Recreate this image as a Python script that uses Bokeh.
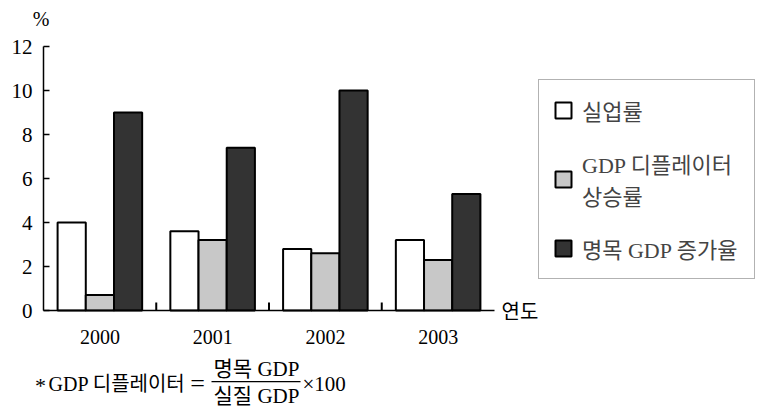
import numpy as np
from bokeh.plotting import figure
from bokeh.models import (Range1d, ColumnDataSource, Legend, LegendItem,
                          Label, BoxAnnotation, FixedTicker)
from bokeh.transform import dodge
from bokeh.embed import file_html
from bokeh.resources import INLINE

years = ["2000", "2001", "2002", "2003"]
unemployment = [4.0, 3.6, 2.8, 3.2]
deflator_growth = [0.7, 3.2, 2.6, 2.3]
nominal_gdp_growth = [9.0, 7.4, 10.0, 5.3]
y_ticks = [0, 2, 4, 6, 8, 10, 12]
series_labels = ["실업률", "GDP 디플레이터\n상승률", "명목 GDP 증가율"]
y_unit = "%"
x_unit = "연도"
fn_star = "*"
fn_name = "GDP 디플레이터"
fn_eq = "="
fn_num = "명목 GDP"
fn_den = "실질 GDP"
fn_times = "×100"

SERIF = "'Liberation Serif', 'Noto Sans CJK KR'"
KR = "'Noto Sans CJK KR'"

# layout (pixels)
W, H = 759, 408
AX_X, AX_Y = 43, 310          # pixel position of the axes origin
PX_X, PX_Y = 112.75, 22.0     # pixels per category / per percent

centers = list(np.arange(len(years)) + 0.5)
bounds_x = [float(b) for b in np.arange(1, len(years))]
src = ColumnDataSource(dict(xc=centers, u=unemployment, d=deflator_growth, n=nominal_gdp_growth))
bsrc = ColumnDataSource(dict(xb=bounds_x, y0=[0.0] * len(bounds_x), y1=[8 / PX_Y] * len(bounds_x)))

p = figure(width=W, height=H, output_backend="svg", toolbar_location=None,
           x_range=Range1d(-AX_X / PX_X, (W - AX_X) / PX_X),
           y_range=Range1d(-(H - AX_Y) / PX_Y, AX_Y / PX_Y),
           min_border=0, min_border_left=0, min_border_right=0,
           min_border_top=0, min_border_bottom=0)
p.outline_line_color = None
p.grid.visible = False
p.background_fill_color = "white"

r1 = p.vbar(x=dodge('xc', -0.25), top='u', width=0.25, source=src,
            fill_color="white", line_color="black", line_width=2)
r2 = p.vbar(x=dodge('xc', 0.0), top='d', width=0.25, source=src,
            fill_color="#c8c8c8", line_color="black", line_width=2)
r3 = p.vbar(x=dodge('xc', 0.25), top='n', width=0.25, source=src,
            fill_color="#333333", line_color="black", line_width=2)

# small upward ticks at category boundaries
p.segment(x0='xb', x1='xb', y0='y0', y1='y1', source=bsrc,
          line_color="black", line_width=2)

xa = p.xaxis[0]
xa.fixed_location = 0
xa.bounds = (0, len(years))
xa.ticker = FixedTicker(ticks=centers)
xa.major_label_overrides = {c: y for c, y in zip(centers, years)}
xa.major_tick_line_color = None
xa.minor_tick_line_color = None
xa.axis_line_width = 1.5
xa.major_label_text_font = SERIF
xa.major_label_text_font_size = "20px"
xa.major_label_standoff = 13
xa.major_label_text_color = "black"

ya = p.yaxis[0]
ya.fixed_location = 0
ya.bounds = (0, 12)
ya.ticker = FixedTicker(ticks=y_ticks)
ya.minor_tick_line_color = None
ya.major_tick_in = 6
ya.major_tick_out = 0
ya.major_tick_line_width = 1.5
ya.axis_line_width = 1.5
ya.major_label_text_font = SERIF
ya.major_label_text_font_size = "21px"
ya.major_label_standoff = 11
ya.major_label_text_color = "black"

legend = Legend(items=[LegendItem(label=series_labels[0], renderers=[r1]),
                       LegendItem(label=series_labels[1], renderers=[r2]),
                       LegendItem(label=series_labels[2], renderers=[r3])],
                location=(538, H - 279))
legend.border_line_color = "#666666"
legend.border_line_width = 1.5
legend.label_text_font = SERIF
legend.label_text_font_size = "22px"
legend.glyph_width = 20
legend.glyph_height = 20
legend.padding = 14
legend.spacing = 21
legend.margin = 0
legend.label_standoff = 9
legend.label_width = 158
p.add_layout(legend, "center")

def lab(text, xo, yo, align="left", font=SERIF, size="21px", x=0, y=0):
    p.add_layout(Label(x=x, y=y, text=text, x_offset=xo, y_offset=yo, text_align=align,
                       text_baseline="middle", text_font=font, text_font_size=size,
                       text_color="black"))

lab(y_unit, -2.5, 28, align="center", size="20px", y=12)
lab(x_unit, 7, 0, align="left", font=KR, size="20px", x=len(years))

lab(fn_star, 40 - AX_X, -(385 - AX_Y), align="center", size="22px")
lab(fn_name, 48 - AX_X, -(383 - AX_Y), align="left", size="20px")
lab(fn_eq, 197 - AX_X, -(383 - AX_Y), align="center", size="26px")
lab(fn_num, 256 - AX_X, -(368 - AX_Y), align="center")
lab(fn_den, 256 - AX_X, -(395 - AX_Y), align="center")
lab(fn_times, 302 - AX_X, -(383 - AX_Y), align="left")
p.add_layout(BoxAnnotation(left=(211 - AX_X) / PX_X, right=(300 - AX_X) / PX_X,
                           top=-(380.5 - AX_Y) / PX_Y, bottom=-(381.7 - AX_Y) / PX_Y,
                           fill_color="black", fill_alpha=1, line_color=None))

open("out.html", "w").write(file_html(p, INLINE))
